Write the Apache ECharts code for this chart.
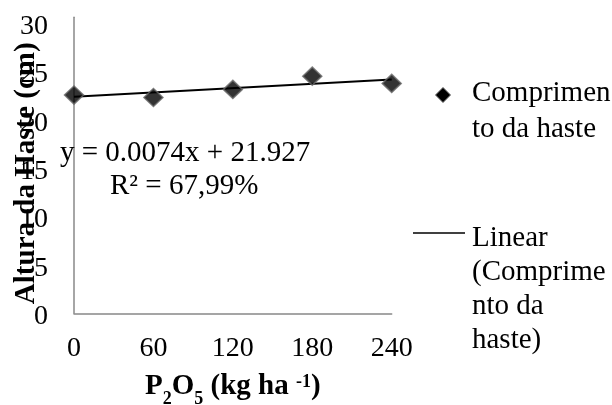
<!DOCTYPE html>
<html>
<head>
<meta charset="utf-8">
<script src="https://cdn.jsdelivr.net/npm/echarts@6/dist/echarts.min.js"></script>
<style>
html,body{margin:0;padding:0;background:#fff;}
#chart{width:612px;height:405px;}
</style>
</head>
<body>
<div id="chart"></div>
<script>
// Data
const doses = [0, 60, 120, 180, 240];               // P2O5 (kg ha-1)
const heights = [22.55, 22.31, 23.14, 24.51, 23.76]; // Altura da haste (cm)
const trendX = [0, 240];
const trendY = [22.38, 24.16];                       // linear trend end values
const yTicks = [0, 5, 10, 15, 20, 25, 30];
const seriesName = 'Comprimento da haste';
const trendName = 'Linear (Comprimento da haste)';
const equationText = 'y = 0.0074x + 21.927';
const r2Text = 'R² = 67,99%';

const FONT = "'Liberation Serif', 'Times New Roman', serif";

const chart = echarts.init(document.getElementById('chart'), null, {renderer: 'canvas'});

chart.setOption({
  animation: false,
  backgroundColor: '#ffffff',
  grid: {left: 74, right: 220.3, top: 17.2, bottom: 91.7, containLabel: false, outerBoundsMode: 'none'},
  xAxis: {
    type: 'value',
    min: doses[0],
    max: doses[doses.length - 1],
    interval: 60,
    axisLine: {show: true, lineStyle: {color: '#888', width: 1.5}},
    axisTick: {show: false},
    splitLine: {show: false},
    axisLabel: {color: '#000', fontFamily: FONT, fontSize: 28, margin: 21},
    name: '{b|P}{sub|2}{b|O}{sub|5}{b| (kg ha }{sup|-1}{b|)}',
    nameLocation: 'middle',
    nameGap: 51,
    nameMoveOverlap: false,
    nameTextStyle: {
      rich: {
        b: {fontFamily: FONT, fontSize: 29, fontWeight: 'bold', color: '#000', lineHeight: 44, verticalAlign: 'middle'},
        sub: {fontFamily: FONT, fontSize: 18, fontWeight: 'bold', color: '#000', verticalAlign: 'bottom', lineHeight: 44},
        sup: {fontFamily: FONT, fontSize: 18, fontWeight: 'bold', color: '#000', verticalAlign: 'top', padding: [9, 0, 0, 0]}
      }
    }
  },
  yAxis: {
    type: 'value',
    min: yTicks[0],
    max: 30.6,
    interval: 5,
    axisLine: {show: true, lineStyle: {color: '#888', width: 1.5}},
    axisTick: {show: false},
    splitLine: {show: false},
    axisLabel: {color: '#000', fontFamily: FONT, fontSize: 28, margin: 26, showMaxLabel: false,
      verticalAlign: 'top', lineHeight: 7,
      formatter: v => (yTicks.indexOf(v) >= 0 ? String(v) : '')},
    name: 'Altura da Haste (cm)',
    nameLocation: 'middle',
    nameRotate: 90,
    nameGap: 33,
    nameMoveOverlap: false,
    nameTextStyle: {fontFamily: FONT, fontSize: 29, fontWeight: 'bold', color: '#000', padding: [0, 16, 0, 0]},
    z: 1
  },
  series: [
    {
      name: trendName,
      type: 'line',
      data: trendX.map((x, i) => [x, trendY[i]]),
      showSymbol: false,
      symbol: 'none',
      lineStyle: {color: '#000', width: 2},
      z: 2
    },
    {
      name: seriesName,
      type: 'scatter',
      data: doses.map((x, i) => [x, heights[i]]),
      symbol: 'diamond',
      symbolSize: [19, 18],
      itemStyle: {color: '#000', borderColor: '#666', borderWidth: 1.5},
      z: 3
    }
  ],
  graphic: [
    {type: 'text', left: 60, top: 153 - 14.5, style: {text: equationText, fontFamily: FONT, fontSize: 29, fill: '#000'}, z: 10},
    {type: 'text', left: 110, top: 186.5 - 14.5, style: {text: r2Text, fontFamily: FONT, fontSize: 29, fill: '#000'}, z: 10},
    {type: 'polygon', shape: {points: [[443, 87.5], [450.5, 95], [443, 102.5], [435.5, 95]]}, style: {fill: '#000', stroke: '#666', lineWidth: 1}},
    {type: 'text', left: 472, top: 75, style: {text: 'Comprimen\nto da haste', fontFamily: FONT, fontSize: 29, lineHeight: 36, fill: '#000'}},
    {type: 'line', shape: {x1: 413, y1: 233, x2: 465, y2: 233}, style: {stroke: '#000', lineWidth: 1.5}},
    {type: 'text', left: 472, top: 221, style: {text: 'Linear\n(Comprime\nnto da\nhaste)', fontFamily: FONT, fontSize: 29, lineHeight: 34, fill: '#000'}}
  ]
});
</script>
</body>
</html>
